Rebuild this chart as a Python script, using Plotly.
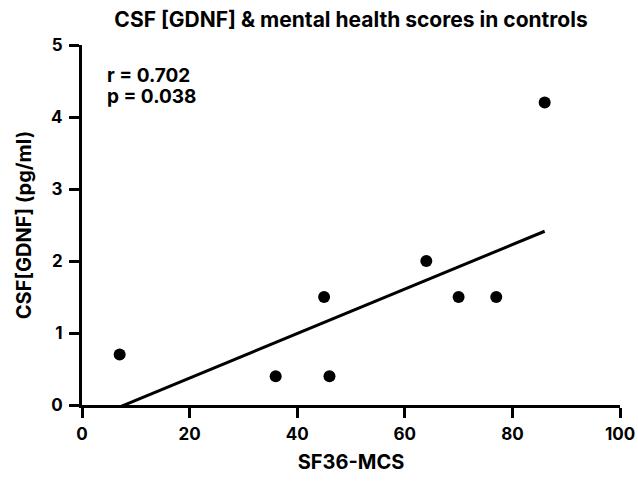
import numpy as np
import plotly.graph_objects as go

# Data
sf36_mcs = [7, 36, 45, 46, 64, 70, 77, 86]
csf_gdnf = [0.7, 0.4, 1.5, 0.4, 2.0, 1.5, 1.5, 4.2]

# regression line parameters
fit_slope = 0.0309
fit_intercept = -0.244

x_ticks = [0, 20, 40, 60, 80, 100]
y_ticks = [0, 1, 2, 3, 4, 5]

stats_lines = ["r = 0.702", "p = 0.038"]
title_text = "CSF [GDNF] & mental health scores in controls"
x_title = "SF36-MCS"
y_title = "CSF[GDNF] (pg/ml)"

FONT = "Inter, Liberation Sans, Arial, sans-serif"

fit_x = np.array([min(sf36_mcs), max(sf36_mcs)], dtype=float)
fit_y = fit_slope * fit_x + fit_intercept

fig = go.Figure()
fig.add_trace(go.Scatter(
    x=fit_x, y=fit_y, mode="lines",
    line=dict(color="black", width=3),
    hoverinfo="skip", showlegend=False,
))
fig.add_trace(go.Scatter(
    x=sf36_mcs, y=csf_gdnf, mode="markers",
    marker=dict(color="black", size=12),
    showlegend=False,
))

axis_common = dict(
    showgrid=False, zeroline=False, automargin=False,
    showline=True, linecolor="black", linewidth=3,
    ticks="outside", ticklen=10, tickwidth=3, tickcolor="black",
    tickfont=dict(family=FONT, size=17, color="black", weight="bold"),
)

fig.update_layout(
    width=638, height=481,
    margin=dict(l=82, r=18, t=45, b=76),
    paper_bgcolor="white", plot_bgcolor="white",
    title=dict(
        text=title_text,
        x=0.5, xref="paper", xanchor="center",
        y=1 - 19.5 / 481, yref="container", yanchor="middle",
        font=dict(family=FONT, size=21, color="black", weight="bold"),
    ),
    xaxis=dict(
        range=[0, 100], tickvals=x_ticks, ticklabelstandoff=2,
        title=dict(text=x_title, standoff=12,
                   font=dict(family=FONT, size=20, color="black", weight="bold")),
        **axis_common,
    ),
    yaxis=dict(
        range=[0, 5], tickvals=y_ticks, ticklabelstandoff=3,
        title=dict(text=y_title, standoff=15,
                   font=dict(family=FONT, size=20, color="black", weight="bold")),
        **axis_common,
    ),
)

for i, txt in enumerate(stats_lines):
    fig.add_annotation(
        x=4.2, y=4.57 - i * 0.28, xref="x", yref="y",
        text=txt, showarrow=False, xanchor="left", yanchor="middle",
        font=dict(family=FONT, size=19, color="black", weight="bold"),
    )

fig.write_html("out.html", config={"displayModeBar": False},
               post_script="document.body.style.margin='0';")
